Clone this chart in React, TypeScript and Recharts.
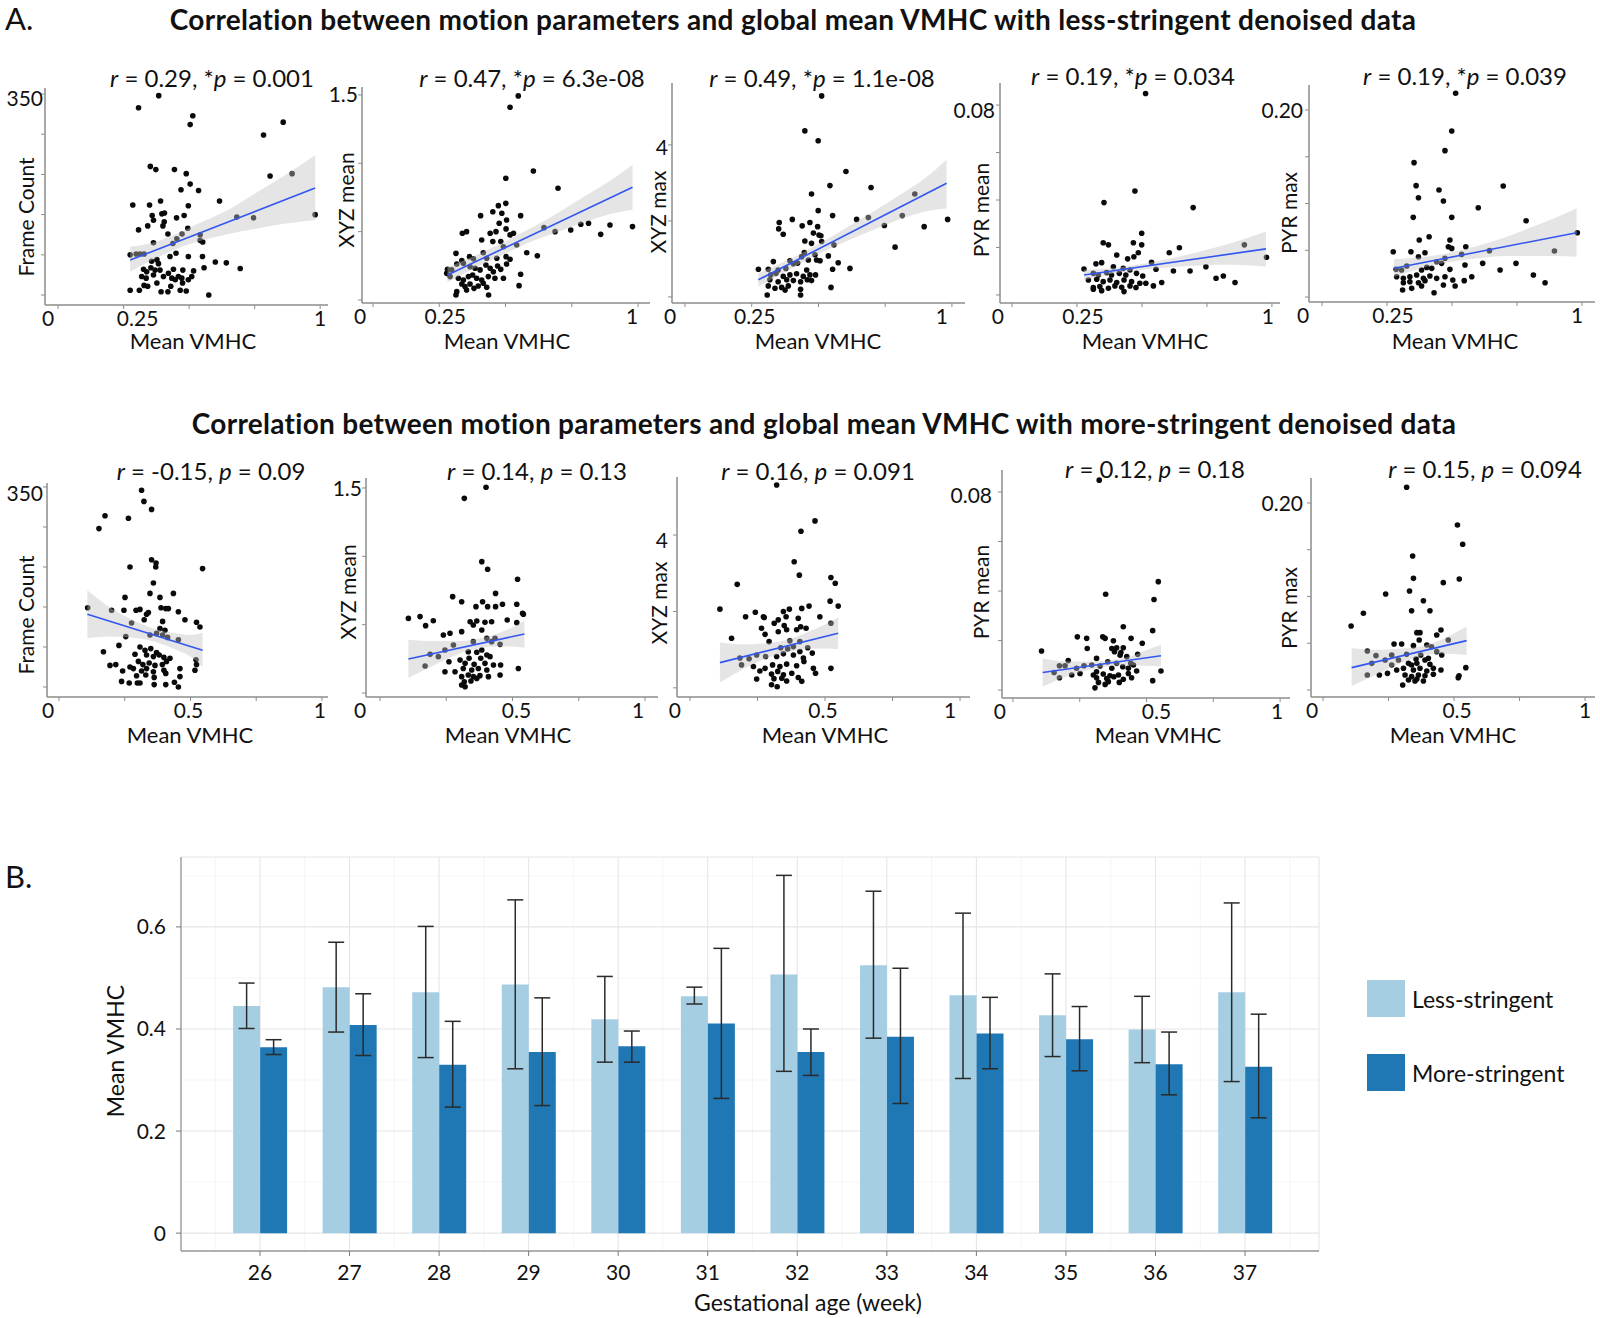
import React from 'react';
import {
  ComposedChart, Scatter, Line, Area, XAxis, YAxis,
  BarChart, Bar, ErrorBar, CartesianGrid, Legend,
} from 'recharts';

const FONT = 'Lato, "Open Sans", sans-serif';

// ---------- A. scatter panels (x = mean VMHC, y = motion parameter) ----------
const lessFramePts: [number, number][] = [[0.384,348],[0.307,333],[0.514,323],[0.504,312],[0.859,315],[0.784,299],[0.352,260],[0.373,256],[0.444,256],[0.489,251],[0.809,248],[0.893,251],[0.504,238],[0.469,231],[0.536,230],[0.285,212],[0.349,212],[0.391,217],[0.497,211],[0.616,217],[0.981,200],[0.682,197],[0.746,196],[0.359,199],[0.396,201],[0.406,202],[0.452,196],[0.481,199],[0.342,186],[0.364,193],[0.400,186],[0.405,191],[0.307,181],[0.495,183],[0.419,176],[0.473,176],[0.453,170],[0.438,164],[0.542,175],[0.552,166],[0.364,165],[0.450,152],[0.427,148],[0.497,148],[0.313,151],[0.328,151],[0.551,148],[0.600,141],[0.642,140],[0.695,133],[0.557,134],[0.357,142],[0.377,144],[0.383,139],[0.354,134],[0.326,132],[0.338,129],[0.370,131],[0.389,131],[0.440,132],[0.476,131],[0.517,130],[0.319,123],[0.336,121],[0.364,125],[0.402,123],[0.421,127],[0.434,121],[0.447,119],[0.459,123],[0.472,121],[0.497,119],[0.510,123],[0.328,112],[0.342,111],[0.377,115],[0.430,111],[0.475,115],[0.275,106],[0.310,106],[0.393,104],[0.419,104],[0.466,106],[0.489,105],[0.575,100],[0.275,150],[0.298,151],[0.542,168]];
const lessFrameFit: [number, number][] = [[0.275,143.5],[0.981,233]];
const lessFrameBand: [number, number, number][] = [[0.275,129,160],[0.35,142,164],[0.45,157,176],[0.55,168,191],[0.65,176,206],[0.75,182,226],[0.85,188,246],[0.981,193,274]];

const lessXyzMeanPts: [number, number][] = [[0.548,1.493],[0.517,1.41],[0.605,0.944],[0.501,0.890],[0.698,0.817],[0.501,0.707],[0.473,0.690],[0.452,0.646],[0.486,0.634],[0.406,0.617],[0.557,0.617],[0.504,0.585],[0.476,0.561],[0.353,0.500],[0.337,0.488],[0.442,0.488],[0.464,0.500],[0.502,0.520],[0.530,0.488],[0.517,0.476],[0.645,0.529],[0.687,0.500],[0.746,0.512],[0.784,0.554],[0.813,0.561],[0.894,0.549],[0.859,0.480],[0.979,0.537],[0.410,0.439],[0.452,0.427],[0.482,0.427],[0.492,0.390],[0.542,0.402],[0.313,0.341],[0.364,0.317],[0.416,0.346],[0.429,0.305],[0.467,0.305],[0.502,0.317],[0.517,0.298],[0.580,0.346],[0.620,0.324],[0.335,0.288],[0.379,0.302],[0.281,0.224],[0.316,0.263],[0.341,0.268],[0.366,0.244],[0.385,0.232],[0.404,0.220],[0.426,0.256],[0.442,0.232],[0.454,0.207],[0.470,0.249],[0.482,0.224],[0.504,0.263],[0.557,0.188],[0.291,0.171],[0.322,0.159],[0.341,0.146],[0.360,0.171],[0.376,0.183],[0.391,0.159],[0.410,0.146],[0.435,0.171],[0.460,0.159],[0.492,0.159],[0.335,0.117],[0.347,0.098],[0.366,0.117],[0.381,0.085],[0.397,0.102],[0.429,0.093],[0.551,0.105],[0.316,0.061],[0.353,0.073],[0.313,0.037],[0.436,0.037],[0.416,0.122],[0.278,0.195],[0.297,0.220]];
const lessXyzMeanFit: [number, number][] = [[0.281,0.183],[0.979,0.824]];
const lessXyzMeanBand: [number, number, number][] = [[0.281,0.13,0.24],[0.38,0.23,0.32],[0.5,0.34,0.43],[0.6,0.43,0.53],[0.7,0.50,0.64],[0.8,0.57,0.76],[0.9,0.63,0.88],[0.979,0.66,0.99]];

const lessXyzMaxPts: [number, number][] = [[0.512,5.29],[0.449,4.37],[0.499,4.11],[0.603,3.30],[0.543,2.93],[0.697,2.88],[0.474,2.71],[0.861,2.71],[0.499,2.27],[0.553,2.14],[0.402,2.04],[0.643,2.04],[0.687,2.09],[0.814,2.14],[0.984,2.04],[0.353,1.96],[0.468,1.96],[0.439,1.87],[0.497,1.85],[0.351,1.79],[0.747,1.88],[0.896,1.85],[0.368,1.65],[0.481,1.68],[0.502,1.63],[0.509,1.61],[0.449,1.47],[0.512,1.46],[0.474,1.41],[0.558,1.37],[0.787,1.31],[0.447,1.17],[0.437,1.06],[0.487,1.11],[0.493,0.97],[0.506,0.95],[0.462,0.97],[0.537,1.08],[0.574,0.90],[0.331,0.93],[0.393,0.95],[0.406,0.87],[0.422,0.89],[0.275,0.73],[0.312,0.73],[0.349,0.71],[0.378,0.75],[0.456,0.71],[0.553,0.73],[0.618,0.75],[0.321,0.58],[0.341,0.62],[0.368,0.54],[0.393,0.58],[0.418,0.61],[0.443,0.54],[0.468,0.58],[0.489,0.58],[0.318,0.45],[0.349,0.40],[0.381,0.45],[0.406,0.43],[0.433,0.40],[0.474,0.43],[0.312,0.29],[0.337,0.23],[0.362,0.25],[0.375,0.18],[0.387,0.29],[0.433,0.20],[0.547,0.25],[0.308,0.05],[0.433,0.05],[0.458,0.45]];
const lessXyzMaxFit: [number, number][] = [[0.275,0.45],[0.98,2.99]];
const lessXyzMaxBand: [number, number, number][] = [[0.275,0.27,0.63],[0.38,0.68,0.95],[0.5,1.13,1.39],[0.6,1.45,1.80],[0.7,1.75,2.22],[0.8,2.03,2.66],[0.9,2.25,3.13],[0.98,2.33,3.61]];

const lessPyrMeanPts: [number, number][] = [[0.514,0.0849],[0.473,0.0438],[0.354,0.0389],[0.697,0.0368],[0.499,0.0260],[0.351,0.0220],[0.371,0.0211],[0.467,0.0220],[0.499,0.0211],[0.644,0.0199],[0.605,0.0178],[0.486,0.0178],[0.403,0.0168],[0.445,0.0152],[0.469,0.0161],[0.894,0.0211],[0.537,0.0137],[0.323,0.0131],[0.345,0.0136],[0.979,0.0159],[0.746,0.0119],[0.277,0.0109],[0.390,0.0119],[0.428,0.0112],[0.454,0.0105],[0.621,0.0101],[0.685,0.0101],[0.554,0.0108],[0.313,0.0091],[0.332,0.0084],[0.364,0.0094],[0.383,0.0084],[0.413,0.0091],[0.438,0.0084],[0.479,0.0091],[0.503,0.0080],[0.785,0.0070],[0.813,0.0080],[0.858,0.0052],[0.294,0.0063],[0.326,0.0066],[0.351,0.0056],[0.377,0.0063],[0.403,0.0052],[0.431,0.0063],[0.460,0.0056],[0.492,0.0049],[0.515,0.0049],[0.576,0.0052],[0.313,0.0031],[0.338,0.0035],[0.371,0.0028],[0.396,0.0038],[0.422,0.0032],[0.454,0.0038],[0.477,0.0031],[0.345,0.0018],[0.431,0.0014],[0.313,0.0024],[0.544,0.0038]];
const lessPyrMeanFit: [number, number][] = [[0.277,0.0084],[0.977,0.0194]];
const lessPyrMeanBand: [number, number, number][] = [[0.277,0.0062,0.0106],[0.4,0.0092,0.0115],[0.5,0.0106,0.0130],[0.6,0.0116,0.0151],[0.7,0.0123,0.0177],[0.8,0.0127,0.0205],[0.9,0.0125,0.0238],[0.977,0.0120,0.0267]];

const lessPyrMaxPts: [number, number][] = [[0.514,0.2178],[0.499,0.1775],[0.473,0.1565],[0.354,0.1437],[0.362,0.1191],[0.697,0.1187],[0.450,0.1144],[0.371,0.1062],[0.467,0.1027],[0.601,0.0955],[0.351,0.0852],[0.499,0.0852],[0.785,0.0816],[0.412,0.0645],[0.374,0.0610],[0.492,0.0610],[0.982,0.0688],[0.486,0.0538],[0.499,0.0520],[0.553,0.0538],[0.274,0.0485],[0.342,0.0485],[0.396,0.0474],[0.894,0.0492],[0.644,0.0496],[0.371,0.0431],[0.537,0.0456],[0.473,0.0414],[0.441,0.0378],[0.460,0.0360],[0.618,0.0360],[0.746,0.0360],[0.550,0.0342],[0.326,0.0332],[0.403,0.0317],[0.306,0.0289],[0.383,0.0289],[0.422,0.0307],[0.492,0.0296],[0.685,0.0289],[0.576,0.0217],[0.287,0.0217],[0.313,0.0200],[0.338,0.0217],[0.364,0.0235],[0.390,0.0200],[0.415,0.0225],[0.441,0.0200],[0.473,0.0217],[0.503,0.0182],[0.813,0.0235],[0.313,0.0153],[0.338,0.0164],[0.371,0.0153],[0.396,0.0175],[0.467,0.0128],[0.547,0.0175],[0.858,0.0153],[0.310,0.0075],[0.345,0.0093],[0.383,0.0118],[0.512,0.0118],[0.431,0.0046],[0.285,0.0296]];
const lessPyrMaxFit: [number, number][] = [[0.277,0.0307],[0.979,0.0688]];
const lessPyrMaxBand: [number, number, number][] = [[0.277,0.0215,0.0405],[0.4,0.0325,0.0430],[0.5,0.0378,0.0478],[0.6,0.0415,0.0548],[0.7,0.0440,0.0635],[0.8,0.0440,0.0740],[0.9,0.0440,0.0850],[0.979,0.0430,0.0948]];

const moreFramePts: [number, number][] = [[0.314,346],[0.323,332],[0.352,322],[0.175,314],[0.264,311],[0.152,298],[0.352,259],[0.369,255],[0.270,250],[0.546,248],[0.368,250],[0.359,230],[0.346,217],[0.435,217],[0.251,212],[0.384,212],[0.109,199],[0.200,196],[0.247,196],[0.293,196],[0.308,197],[0.388,199],[0.406,198],[0.416,198],[0.333,191],[0.340,193],[0.454,194],[0.324,184],[0.394,182],[0.479,184],[0.276,180],[0.523,181],[0.536,175],[0.384,173],[0.403,171],[0.254,163],[0.346,165],[0.371,167],[0.394,165],[0.413,162],[0.228,152],[0.308,150],[0.327,146],[0.349,148],[0.371,143],[0.454,159],[0.169,144],[0.289,141],[0.333,140],[0.359,138],[0.381,140],[0.399,137],[0.422,136],[0.521,134],[0.194,127],[0.216,128],[0.270,125],[0.302,132],[0.319,128],[0.343,130],[0.365,127],[0.393,128],[0.409,132],[0.242,120],[0.283,123],[0.314,120],[0.333,123],[0.359,119],[0.399,121],[0.460,123],[0.295,114],[0.330,115],[0.362,112],[0.406,117],[0.460,113],[0.517,121],[0.238,107],[0.267,105],[0.298,105],[0.308,105],[0.362,103],[0.406,103],[0.439,106],[0.454,100],[0.523,128]];
const moreFrameFit: [number, number][] = [[0.108,191],[0.546,146]];
const moreFrameBand: [number, number, number][] = [[0.108,161,221],[0.2,163,198],[0.3,161,181],[0.37,156,172],[0.45,146,167],[0.5,138,165],[0.546,125,168]];

const moreXyzMeanPts: [number, number][] = [[0.400,1.505],[0.318,1.424],[0.384,0.961],[0.406,0.905],[0.519,0.832],[0.436,0.729],[0.274,0.705],[0.308,0.668],[0.387,0.668],[0.516,0.649],[0.462,0.649],[0.362,0.632],[0.406,0.632],[0.436,0.632],[0.538,0.583],[0.107,0.546],[0.151,0.559],[0.201,0.529],[0.172,0.493],[0.480,0.534],[0.340,0.522],[0.365,0.527],[0.396,0.517],[0.421,0.522],[0.516,0.515],[0.352,0.498],[0.239,0.424],[0.264,0.437],[0.308,0.449],[0.384,0.461],[0.434,0.400],[0.352,0.376],[0.403,0.400],[0.421,0.376],[0.453,0.356],[0.277,0.351],[0.245,0.315],[0.189,0.283],[0.220,0.266],[0.333,0.302],[0.365,0.298],[0.384,0.315],[0.403,0.278],[0.336,0.254],[0.380,0.254],[0.415,0.266],[0.260,0.229],[0.302,0.241],[0.321,0.217],[0.355,0.210],[0.396,0.217],[0.428,0.205],[0.455,0.205],[0.170,0.198],[0.314,0.180],[0.346,0.168],[0.371,0.180],[0.403,0.168],[0.522,0.180],[0.245,0.156],[0.283,0.156],[0.453,0.132],[0.308,0.120],[0.333,0.132],[0.352,0.120],[0.377,0.127],[0.409,0.120],[0.318,0.083],[0.343,0.088],[0.308,0.059],[0.321,0.046],[0.365,0.107],[0.541,0.576]];
const moreXyzMeanFit: [number, number][] = [[0.107,0.249],[0.545,0.432]];
const moreXyzMeanBand: [number, number, number][] = [[0.107,0.11,0.39],[0.2,0.20,0.38],[0.3,0.29,0.38],[0.38,0.33,0.40],[0.45,0.34,0.44],[0.5,0.34,0.48],[0.545,0.33,0.53]];

const moreXyzMaxPts: [number, number][] = [[0.321,5.31],[0.463,4.37],[0.411,4.10],[0.386,3.30],[0.405,2.95],[0.522,2.89],[0.175,2.71],[0.538,2.74],[0.519,2.27],[0.111,2.06],[0.242,1.98],[0.346,2.00],[0.368,2.06],[0.414,2.08],[0.441,2.14],[0.549,2.14],[0.206,1.86],[0.272,1.86],[0.275,1.84],[0.356,1.86],[0.327,1.78],[0.401,1.82],[0.481,1.86],[0.312,1.69],[0.349,1.63],[0.410,1.60],[0.430,1.56],[0.522,1.69],[0.265,1.56],[0.278,1.40],[0.327,1.47],[0.358,1.52],[0.395,1.52],[0.154,1.30],[0.293,1.21],[0.370,1.23],[0.407,1.21],[0.336,1.05],[0.362,1.02],[0.383,1.08],[0.407,0.95],[0.436,1.05],[0.453,0.91],[0.219,0.76],[0.247,0.86],[0.280,0.82],[0.321,0.82],[0.346,0.89],[0.383,0.86],[0.420,0.78],[0.191,0.60],[0.235,0.56],[0.278,0.51],[0.306,0.60],[0.333,0.56],[0.358,0.62],[0.395,0.58],[0.422,0.69],[0.457,0.51],[0.465,0.38],[0.522,0.51],[0.259,0.44],[0.302,0.36],[0.325,0.43],[0.346,0.34],[0.377,0.38],[0.401,0.27],[0.247,0.23],[0.311,0.24],[0.340,0.25],[0.358,0.18],[0.414,0.17],[0.302,0.08],[0.323,0.03],[0.185,0.78]];
const moreXyzMaxFit: [number, number][] = [[0.111,0.66],[0.549,1.43]];
const moreXyzMaxBand: [number, number, number][] = [[0.111,0.14,1.19],[0.2,0.50,1.14],[0.3,0.82,1.18],[0.38,0.96,1.30],[0.45,1.03,1.50],[0.5,1.03,1.66],[0.549,1.01,1.84]];

const morePyrMeanPts: [number, number][] = [[0.323,0.0848],[0.544,0.0438],[0.528,0.0366],[0.347,0.0387],[0.413,0.0256],[0.523,0.0240],[0.241,0.0215],[0.276,0.0209],[0.336,0.0215],[0.345,0.0209],[0.376,0.0199],[0.442,0.0209],[0.484,0.0189],[0.107,0.0158],[0.278,0.0168],[0.370,0.0168],[0.388,0.0171],[0.413,0.0171],[0.380,0.0155],[0.404,0.0152],[0.467,0.0145],[0.207,0.0119],[0.401,0.0141],[0.426,0.0135],[0.313,0.0128],[0.355,0.0114],[0.388,0.0108],[0.441,0.0108],[0.174,0.0098],[0.195,0.0098],[0.238,0.0088],[0.266,0.0098],[0.295,0.0101],[0.326,0.0097],[0.370,0.0088],[0.411,0.0094],[0.432,0.0088],[0.451,0.0101],[0.554,0.0077],[0.154,0.0071],[0.220,0.0061],[0.251,0.0067],[0.301,0.0061],[0.313,0.0074],[0.338,0.0065],[0.363,0.0058],[0.395,0.0061],[0.432,0.0067],[0.463,0.0077],[0.174,0.0050],[0.313,0.0050],[0.351,0.0047],[0.378,0.0054],[0.413,0.0044],[0.444,0.0050],[0.523,0.0038],[0.320,0.0031],[0.357,0.0034],[0.398,0.0031],[0.307,0.0009],[0.345,0.0023]];
const morePyrMeanFit: [number, number][] = [[0.111,0.0071],[0.554,0.0139]];
const morePyrMeanBand: [number, number, number][] = [[0.111,0.0014,0.0128],[0.2,0.0055,0.0116],[0.3,0.0085,0.0115],[0.37,0.0097,0.0121],[0.45,0.0100,0.0140],[0.5,0.0098,0.0162],[0.554,0.0095,0.0183]];

const morePyrMaxPts: [number, number][] = [[0.319,0.2168],[0.513,0.1765],[0.533,0.1558],[0.342,0.1433],[0.345,0.1194],[0.520,0.1187],[0.459,0.1148],[0.239,0.1027],[0.330,0.1059],[0.383,0.0955],[0.154,0.0820],[0.338,0.0848],[0.408,0.0848],[0.107,0.0684],[0.450,0.0642],[0.358,0.0613],[0.370,0.0613],[0.434,0.0588],[0.478,0.0535],[0.367,0.0535],[0.271,0.0492],[0.300,0.0492],[0.345,0.0474],[0.396,0.0481],[0.414,0.0463],[0.169,0.0417],[0.434,0.0410],[0.202,0.0367],[0.262,0.0374],[0.319,0.0381],[0.373,0.0374],[0.453,0.0374],[0.402,0.0339],[0.237,0.0321],[0.288,0.0321],[0.355,0.0332],[0.389,0.0321],[0.186,0.0285],[0.262,0.0267],[0.326,0.0285],[0.338,0.0267],[0.358,0.0285],[0.408,0.0275],[0.545,0.0239],[0.281,0.0214],[0.307,0.0232],[0.345,0.0214],[0.370,0.0232],[0.396,0.0203],[0.421,0.0232],[0.450,0.0214],[0.169,0.0160],[0.215,0.0160],[0.246,0.0178],[0.313,0.0160],[0.338,0.0143],[0.364,0.0160],[0.389,0.0153],[0.421,0.0168],[0.519,0.0153],[0.516,0.0132],[0.326,0.0107],[0.358,0.0118],[0.383,0.0096],[0.304,0.0053],[0.351,0.0096]];
const morePyrMaxFit: [number, number][] = [[0.109,0.0239],[0.548,0.0528]];
const morePyrMaxBand: [number, number, number][] = [[0.109,0.0043,0.0446],[0.2,0.0160,0.0430],[0.3,0.0290,0.0445],[0.37,0.0360,0.0465],[0.45,0.0390,0.0535],[0.5,0.0385,0.0605],[0.548,0.0375,0.0680]];

const motionNames = ['Frame Count', 'XYZ mean', 'XYZ max', 'PYR mean', 'PYR max'];
const lessStats = [['0.29', '0.001'], ['0.47', '6.3e-08'], ['0.49', '1.1e-08'], ['0.19', '0.034'], ['0.19', '0.039']];
const moreStats = [['-0.15', '0.09'], ['0.14', '0.13'], ['0.16', '0.091'], ['0.12', '0.18'], ['0.15', '0.094']];
const xTicksAll = [0, 0.25, 0.5, 0.75, 1];
const lessXLabels = [0, 0.25, 1];
const moreXLabels = [0, 0.5, 1];
const yTickSets = [[100, 150, 200, 250, 300, 350], [0, 0.5, 1, 1.5], [0, 2, 4], [0, 0.02, 0.04, 0.06, 0.08], [0, 0.05, 0.1, 0.15, 0.2]];
const yTopLabels = ['350', '1.5', '4', '0.08', '0.20'];

// ---------- B. bars ----------
const weeks = [26, 27, 28, 29, 30, 31, 32, 33, 34, 35, 36, 37];
const lessMean = [0.445, 0.482, 0.472, 0.487, 0.419, 0.464, 0.507, 0.525, 0.466, 0.427, 0.399, 0.472];
const lessLo = [0.401, 0.394, 0.344, 0.322, 0.335, 0.449, 0.317, 0.382, 0.303, 0.346, 0.334, 0.297];
const lessHi = [0.490, 0.570, 0.601, 0.653, 0.503, 0.482, 0.701, 0.670, 0.627, 0.508, 0.464, 0.647];
const moreMean = [0.364, 0.408, 0.330, 0.355, 0.366, 0.411, 0.355, 0.385, 0.391, 0.380, 0.331, 0.326];
const moreLo = [0.350, 0.348, 0.247, 0.250, 0.335, 0.264, 0.309, 0.254, 0.322, 0.318, 0.271, 0.226];
const moreHi = [0.379, 0.469, 0.415, 0.461, 0.396, 0.558, 0.400, 0.519, 0.462, 0.444, 0.394, 0.429];
const seriesNames = ['Less-stringent', 'More-stringent'];
const seriesColors = ['#a6cee3', '#1f78b4'];
const barYTicks = [0, 0.2, 0.4, 0.6];
const barYMinor = [0.1, 0.3, 0.5, 0.7];
const barXMinor = [25.5, 26.5, 27.5, 28.5, 29.5, 30.5, 31.5, 32.5, 33.5, 34.5, 35.5, 36.5, 37.5];

type Cfg = {
  pts: [number, number][]; fit: [number, number][]; band: [number, number, number][];
  idx: number; row: 0 | 1;
  x0: number; x1: number; y0: number; y1: number;
  xd: [number, number]; yd: [number, number];
  xdx: number[]; ygap: number; ydy: number;
  t: [number, number]; xt: [number, number]; yt: [number, number];
};

const panels: Cfg[] = [
  { pts: lessFramePts, fit: lessFrameFit, band: lessFrameBand, idx: 0, row: 0, x0: 45, x1: 328, y0: 88, y1: 305, xd: [-0.05, 1.03], yd: [87.6, 357.5], xdx: [-10, 14, 0], ygap: 2, ydy: 4, t: [212, 78], xt: [193, 341], yt: [25, 217] },
  { pts: lessXyzMeanPts, fit: lessXyzMeanFit, band: lessXyzMeanBand, idx: 1, row: 0, x0: 362, x1: 650, y0: 87, y1: 303, xd: [-0.0415, 1.045], yd: [-0.022, 1.558], xdx: [-13, 6, -6], ygap: 4, ydy: 0, t: [532, 78], xt: [507, 341], yt: [345, 200] },
  { pts: lessXyzMaxPts, fit: lessXyzMaxFit, band: lessXyzMaxBand, idx: 2, row: 0, x0: 672, x1: 965, y0: 83, y1: 303, xd: [-0.0487, 1.049], yd: [-0.16, 5.63], xdx: [-15, 3, -10], ygap: 4, ydy: 3, t: [822, 78], xt: [818, 341], yt: [657, 212] },
  { pts: lessPyrMeanPts, fit: lessPyrMeanFit, band: lessPyrMeanBand, idx: 3, row: 0, x0: 1000, x1: 1280, y0: 83, y1: 303, xd: [-0.046, 1.031], yd: [-0.0034, 0.0893], xdx: [-14, 6, -4], ygap: 5, ydy: 5, t: [1133, 76], xt: [1145, 341], yt: [980, 210] },
  { pts: lessPyrMaxPts, fit: lessPyrMaxFit, band: lessPyrMaxBand, idx: 4, row: 0, x0: 1309, x1: 1595, y0: 85, y1: 302, xd: [-0.05, 1.05], yd: [-0.0053, 0.2267], xdx: [-19, 6, -5], ygap: 6, ydy: 0, t: [1465, 76], xt: [1455, 341], yt: [1288, 213] },
  { pts: moreFramePts, fit: moreFrameFit, band: moreFrameBand, idx: 0, row: 1, x0: 47, x1: 328, y0: 483, y1: 697, xd: [-0.0456, 1.023], yd: [87.5, 355], xdx: [-11, -2, -2], ygap: 4, ydy: 6, t: [211, 471], xt: [190, 735], yt: [25, 615] },
  { pts: moreXyzMeanPts, fit: moreXyzMeanFit, band: moreXyzMeanBand, idx: 1, row: 1, x0: 366, x1: 658, y0: 478, y1: 697, xd: [-0.053, 1.049], yd: [-0.029, 1.573], xdx: [-20, 4, -7], ygap: 4, ydy: 0, t: [537, 471], xt: [508, 735], yt: [347, 592] },
  { pts: moreXyzMaxPts, fit: moreXyzMaxFit, band: moreXyzMaxBand, idx: 2, row: 1, x0: 677, x1: 970, y0: 477, y1: 697, xd: [-0.048, 1.037], yd: [-0.24, 5.52], xdx: [-15, -2, -10], ygap: 9, ydy: 5, t: [818, 471], xt: [825, 735], yt: [658, 603] },
  { pts: morePyrMeanPts, fit: morePyrMeanFit, band: morePyrMeanBand, idx: 3, row: 1, x0: 1002, x1: 1290, y0: 470, y1: 698, xd: [-0.041, 1.037], yd: [-0.0032, 0.0889], xdx: [-13, 10, -3], ygap: 10, ydy: 3, t: [1155, 469], xt: [1158, 735], yt: [980, 592] },
  { pts: morePyrMaxPts, fit: morePyrMaxFit, band: morePyrMaxBand, idx: 4, row: 1, x0: 1311, x1: 1595, y0: 478, y1: 697, xd: [-0.046, 1.038], yd: [-0.0075, 0.2267], xdx: [-11, 3, 0], ygap: 8, ydy: 0, t: [1485, 469], xt: [1453, 735], yt: [1288, 608] },
];

const AXIS = '#8c8c8c';

const Dot = (p: any) => <circle cx={p.cx} cy={p.cy} r={2.8} fill="#0a0a0a" />;

const XTick = (p: any) => {
  const { x, y, payload, shown, dxs } = p;
  const i = shown.indexOf(payload.value);
  if (i < 0) return <g />;
  return (
    <text x={x + dxs[i]} y={y} dy="0.72em" textAnchor="middle" fontSize={21} fill="#111">
      {String(shown[i])}
    </text>
  );
};

const YTick = (p: any) => {
  const { x, y, payload, top, text, gap, ddy } = p;
  if (payload.value !== top) return <g />;
  return (
    <text x={x + 4 - gap} y={y + ddy} dy="0.36em" textAnchor="end" fontSize={21} fill="#111">{text}</text>
  );
};

const center = (x: number, y: number, rot = false): React.CSSProperties => ({
  position: 'absolute', left: x, top: y, whiteSpace: 'nowrap', lineHeight: 1,
  transform: `translate(-50%, -50%)${rot ? ' rotate(-90deg)' : ''}`,
});

function ScatterPanel({ c }: { c: Cfg }) {
  const padL = 60, padT = 12, padR = 4, padB = 40;
  const w = c.x1 - c.x0 + padL + padR;
  const h = c.y1 - c.y0 + padT + padB;
  const pts = c.pts.map(([x, y]) => ({ x, y }));
  const fit = c.fit.map(([x, y]) => ({ x, fit: y }));
  const band = c.band.map(([x, lo, hi]) => ({ x, ci: [lo, hi] }));
  const shown = c.row === 0 ? lessXLabels : moreXLabels;
  const yTicks = yTickSets[c.idx];
  const stat = (c.row === 0 ? lessStats : moreStats)[c.idx];
  const star = c.row === 0 ? '*' : '';
  return (
    <>
      <div style={{ position: 'absolute', left: c.x0 - padL, top: c.y0 - padT }}>
        <ComposedChart width={w} height={h} margin={{ top: padT, right: padR, bottom: 0, left: 0 }}>
          <XAxis type="number" dataKey="x" domain={c.xd} allowDataOverflow ticks={xTicksAll} interval={0}
            height={padB} axisLine={{ stroke: AXIS, strokeWidth: 1.5 }} tickLine={{ stroke: AXIS }} tickSize={4} tickMargin={2}
            tick={<XTick shown={shown} dxs={c.xdx} />} />
          <YAxis type="number" domain={c.yd} allowDataOverflow ticks={yTicks} interval={0} width={padL}
            axisLine={{ stroke: AXIS, strokeWidth: 1.5 }} tickLine={{ stroke: AXIS }} tickSize={4} tickMargin={0}
            tick={<YTick top={yTicks[yTicks.length - 1]} text={yTopLabels[c.idx]} gap={c.ygap} ddy={c.ydy} />} />
          <Scatter data={pts} dataKey="y" shape={Dot} isAnimationActive={false} />
          <Area data={band} dataKey="ci" type="monotone" stroke="none" fill="#c2c2c2" fillOpacity={0.42}
            isAnimationActive={false} zIndex={700} />
          <Line data={fit} dataKey="fit" type="linear" stroke="#3356f0" strokeWidth={1.6} dot={false}
            isAnimationActive={false} zIndex={800} />
        </ComposedChart>
      </div>
      <div style={{ ...center(c.t[0], c.t[1]), fontSize: 24 }}>
        <i>r</i> = {stat[0]}, {star}<i>p</i> = {stat[1]}
      </div>
      <div style={{ ...center(c.xt[0], c.xt[1]), fontSize: 22 }}>Mean VMHC</div>
      <div style={{ ...center(c.yt[0], c.yt[1], true), fontSize: 21 }}>{motionNames[c.idx]}</div>
    </>
  );
}

const LegendBox = () => (
  <div style={{ fontFamily: FONT }}>
    {seriesNames.map((n, i) => (
      <div key={n} style={{ display: 'flex', alignItems: 'center', height: 37, marginBottom: i === 0 ? 37 : 0 }}>
        <div style={{ width: 38, height: 37, background: seriesColors[i] }} />
        <span style={{ marginLeft: 7, fontSize: 23, color: '#111' }}>{n}</span>
      </div>
    ))}
  </div>
);

function BarPanel() {
  const rows = weeks.map((wk, i) => ({
    week: wk,
    less: lessMean[i],
    more: moreMean[i],
    lessErr: [lessMean[i] - lessLo[i], lessHi[i] - lessMean[i]],
    moreErr: [moreMean[i] - moreLo[i], moreHi[i] - moreMean[i]],
  }));
  const xd: [number, number] = [25.118, 37.826];
  const yd: [number, number] = [-0.035, 0.737];
  const frame = { stroke: '#9a9a9a', strokeWidth: 1.3 };
  return (
    <div style={{ position: 'absolute', left: 100, top: 847 }}>
      <BarChart width={1500} height={464} data={rows} margin={{ top: 10, right: 281, left: 0, bottom: 0 }}
        barGap={0} barCategoryGap="20%">
        <CartesianGrid stroke="#f3f3f3" strokeWidth={0.8} horizontalValues={barYMinor} verticalValues={barXMinor} />
        <CartesianGrid stroke="#e6e6e6" strokeWidth={1.1} />
        <XAxis type="number" dataKey="week" domain={xd} allowDataOverflow ticks={weeks} interval={0} height={60}
          axisLine={frame} tickLine={{ stroke: '#777' }} tickSize={5} tickMargin={9}
          tick={{ fontSize: 21, fill: '#111' }} />
        <XAxis xAxisId="top" orientation="top" type="number" domain={xd} allowDataOverflow height={0}
          tick={false} tickLine={false} axisLine={frame} />
        <YAxis domain={yd} allowDataOverflow ticks={barYTicks} interval={0} width={81}
          axisLine={frame} tickLine={{ stroke: '#777' }} tickSize={5} tickMargin={10}
          tick={{ fontSize: 21, fill: '#111' }} />
        <YAxis yAxisId="right" orientation="right" domain={yd} allowDataOverflow width={0}
          tick={false} tickLine={false} axisLine={frame} />
        <Bar dataKey="less" name={seriesNames[0]} fill={seriesColors[0]} isAnimationActive={false}>
          <ErrorBar dataKey="lessErr" stroke="#2a2a2a" strokeWidth={1.5} width={8} />
        </Bar>
        <Bar dataKey="more" name={seriesNames[1]} fill={seriesColors[1]} isAnimationActive={false}>
          <ErrorBar dataKey="moreErr" stroke="#2a2a2a" strokeWidth={1.5} width={8} />
        </Bar>
        <Legend layout="vertical" align="center" verticalAlign="middle" content={<LegendBox />}
          wrapperStyle={{ left: 1267, top: 133, width: 'auto', height: 'auto' }} />
      </BarChart>
    </div>
  );
}

export default function App() {
  return (
    <div style={{ position: 'absolute', left: 0, top: 0, width: 1600, height: 1318, background: '#fff', overflow: 'hidden', fontFamily: FONT, color: '#111' }}>
      <div style={{ position: 'absolute', left: 5, top: 0, fontSize: 31, lineHeight: '36px' }}>A.</div>
      <div style={{ ...center(793, 19), fontSize: 28, fontWeight: 700, letterSpacing: 0.3 }}>
        Correlation between motion parameters and global mean VMHC with less-stringent denoised data
      </div>
      <div style={{ ...center(824, 423), fontSize: 28, fontWeight: 700, letterSpacing: 0.3 }}>
        Correlation between motion parameters and global mean VMHC with more-stringent denoised data
      </div>
      {panels.map((c, i) => <ScatterPanel key={i} c={c} />)}
      <div style={{ position: 'absolute', left: 5, top: 858, fontSize: 31, lineHeight: '36px' }}>B.</div>
      <BarPanel />
      <div style={{ ...center(808, 1302), fontSize: 23 }}>Gestational age (week)</div>
      <div style={{ ...center(115, 1051, true), fontSize: 23 }}>Mean VMHC</div>
    </div>
  );
}
